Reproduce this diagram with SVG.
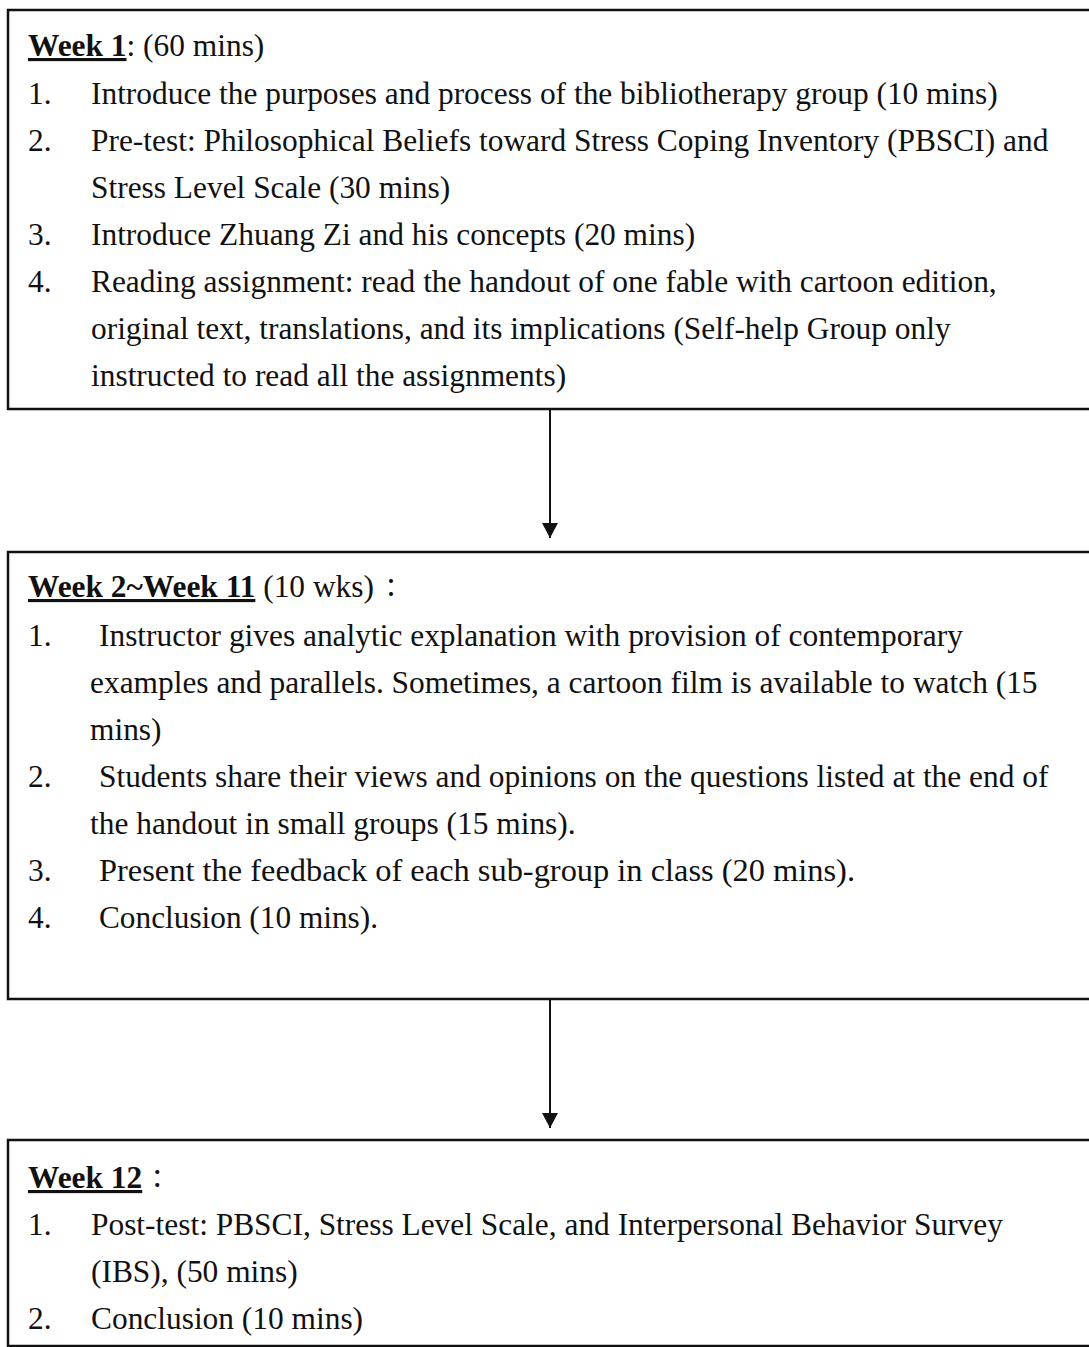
<svg xmlns="http://www.w3.org/2000/svg" width="1089" height="1347" viewBox="0 0 1089 1347">
<style>
.box{fill:#fff;stroke:#111;stroke-width:2.5}
.t{font-family:"Liberation Serif","Times New Roman",serif;font-size:31.4px;fill:#111}
.h{font-weight:bold;text-decoration:underline}
.cj{font-family:"Noto Sans CJK TC",sans-serif;font-size:26px}
.c{stroke:#111;stroke-width:2;fill:none}
</style>
<defs>
<marker id="ah" markerWidth="16" markerHeight="16" refX="15" refY="8" orient="auto" markerUnits="userSpaceOnUse" viewBox="0 0 16 16">
<path d="M0,0 L15,8 L0,16 Z" fill="#111"/>
</marker>
</defs>
<rect width="1089" height="1347" fill="#fff"/>
<g id="week1">
<rect class="box" x="8" y="10" width="1090" height="399"/>
<text class="t" x="28" y="56"><tspan class="h">Week 1</tspan>: (60 mins)</text>
<text class="t" x="28" y="104">1.</text>
<text class="t" x="91" y="104">Introduce the purposes and process of the bibliotherapy group (10 mins)</text>
<text class="t" x="28" y="151">2.</text>
<text class="t" x="91" y="151">Pre-test: Philosophical Beliefs toward Stress Coping Inventory (PBSCI) and</text>
<text class="t" x="91" y="198">Stress Level Scale (30 mins)</text>
<text class="t" x="28" y="245">3.</text>
<text class="t" x="91" y="245">Introduce Zhuang Zi and his concepts (20 mins)</text>
<text class="t" x="28" y="292">4.</text>
<text class="t" x="91" y="292">Reading assignment: read the handout of one fable with cartoon edition,</text>
<text class="t" x="91" y="339">original text, translations, and its implications (Self-help Group only</text>
<text class="t" x="91" y="386">instructed to read all the assignments)</text>
</g>
<g id="week2-11">
<rect class="box" x="8" y="552" width="1090" height="447"/>
<text class="t" x="28" y="597"><tspan class="h">Week 2~Week 11</tspan> (10 wks)<tspan class="cj" dx="4">：</tspan></text>
<text class="t" x="28" y="646">1.</text>
<text class="t" x="99" y="646">Instructor gives analytic explanation with provision of contemporary</text>
<text class="t" x="90" y="693">examples and parallels. Sometimes, a cartoon film is available to watch (15</text>
<text class="t" x="90" y="740">mins)</text>
<text class="t" x="28" y="787">2.</text>
<text class="t" x="99" y="787">Students share their views and opinions on the questions listed at the end of</text>
<text class="t" x="90" y="834">the handout in small groups (15 mins).</text>
<text class="t" x="28" y="881">3.</text>
<text class="t" x="99" y="881" textLength="756" lengthAdjust="spacingAndGlyphs">Present the feedback of each sub-group    in class (20 mins).</text>
<text class="t" x="28" y="928">4.</text>
<text class="t" x="99" y="928" textLength="279" lengthAdjust="spacingAndGlyphs">Conclusion (10 mins).</text>
</g>
<g id="week12">
<rect class="box" x="8" y="1140" width="1090" height="206"/>
<text class="t" x="28" y="1188"><tspan class="h">Week 12</tspan><tspan class="cj" dx="2">：</tspan></text>
<text class="t" x="28" y="1235">1.</text>
<text class="t" x="91" y="1235">Post-test: PBSCI, Stress Level Scale, and Interpersonal Behavior Survey</text>
<text class="t" x="91" y="1282">(IBS), (50 mins)</text>
<text class="t" x="28" y="1329">2.</text>
<text class="t" x="91" y="1329">Conclusion (10 mins)</text>
</g>
<g id="connectors">
<line class="c" x1="550" y1="410" x2="550" y2="538" marker-end="url(#ah)"/>
<line class="c" x1="550" y1="1000" x2="550" y2="1128" marker-end="url(#ah)"/>
</g>
</svg>
